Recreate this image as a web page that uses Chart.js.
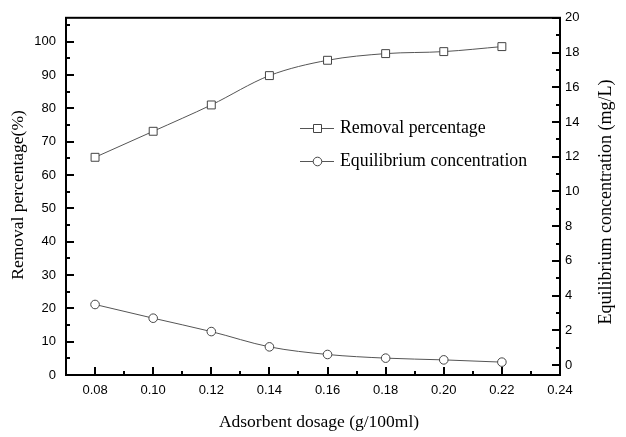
<!DOCTYPE html>
<html>
<head>
<meta charset="utf-8">
<script src="https://cdn.jsdelivr.net/npm/chart.js@4.4.0/dist/chart.umd.min.js"></script>
<style>
  html, body { margin: 0; padding: 0; background: #fff; }
  #wrap { width: 626px; height: 437px; }
</style>
</head>
<body>
<div id="wrap"><canvas id="dosageChart"></canvas></div>
<script>
// adsorbent dosage (g/100ml) and the two measured series
const dosage = [0.08, 0.10, 0.12, 0.14, 0.16, 0.18, 0.20, 0.22];
const removalPct = [65.3, 73.1, 81.0, 89.8, 94.4, 96.4, 97.0, 98.5];
const equilConc = [3.49, 2.70, 1.93, 1.05, 0.61, 0.40, 0.30, 0.17];

// axis ticks
const xTicks = [0.08, 0.10, 0.12, 0.14, 0.16, 0.18, 0.20, 0.22, 0.24];
const xMinorTicks = [0.09, 0.11, 0.13, 0.15, 0.17, 0.19, 0.21, 0.23];
const leftTicks = [0, 10, 20, 30, 40, 50, 60, 70, 80, 90, 100];
const leftMinorTicks = [5, 15, 25, 35, 45, 55, 65, 75, 85, 95, 105];
const rightTicks = [0, 2, 4, 6, 8, 10, 12, 14, 16, 18, 20];
const rightMinorTicks = [1, 3, 5, 7, 9, 11, 13, 15, 17, 19];

const serif = "'Liberation Serif', 'Times New Roman', serif";
const sans = "'Liberation Sans', Arial, sans-serif";
const lineColor = '#555';

// box around the plot, inward major/minor tick marks, axis titles
const frameTicks = {
  id: 'frameTicks',
  afterDraw(chart) {
    const { ctx, chartArea: a, scales } = chart;
    ctx.save();
    ctx.strokeStyle = '#000';
    ctx.lineWidth = 2;
    ctx.strokeRect(a.left, a.top, a.right - a.left, a.bottom - a.top);
    ctx.beginPath();
    const xMark = (vals, len) => vals.forEach(v => {
      const px = Math.round(scales.x.getPixelForValue(v));
      ctx.moveTo(px, a.bottom); ctx.lineTo(px, a.bottom - len);
    });
    const leftMark = (vals, len) => vals.forEach(v => {
      const py = Math.round(scales.y.getPixelForValue(v));
      ctx.moveTo(a.left, py); ctx.lineTo(a.left + len, py);
    });
    const rightMark = (vals, len) => vals.forEach(v => {
      const py = Math.round(scales.y1.getPixelForValue(v));
      ctx.moveTo(a.right, py); ctx.lineTo(a.right - len, py);
    });
    xMark(xTicks, 8); xMark(xMinorTicks, 4);
    leftMark(leftTicks, 8); leftMark(leftMinorTicks, 4);
    rightMark(rightTicks, 8); rightMark(rightMinorTicks, 4);
    ctx.stroke();

    ctx.fillStyle = '#000';
    ctx.textAlign = 'center';
    ctx.textBaseline = 'middle';

    ctx.font = '17.5px ' + serif;
    ctx.fillText('Adsorbent dosage (g/100ml)', 319, 422);

    ctx.save();
    ctx.translate(18, 195);
    ctx.rotate(-Math.PI / 2);
    ctx.fillText('Removal percentage(%)', 0, 0);
    ctx.restore();

    ctx.font = '18px ' + serif;
    ctx.translate(606, 202);
    ctx.rotate(-Math.PI / 2);
    ctx.fillText('Equilibrium concentration (mg/L)', 0, 0);
    ctx.restore();
  }
};

// legend inside the plot
const innerLegend = {
  id: 'innerLegend',
  afterDraw(chart) {
    const { ctx } = chart;
    const rows = [
      { text: 'Removal percentage', y: 128, shape: 'rect' },
      { text: 'Equilibrium concentration', y: 161, shape: 'circle' }
    ];
    ctx.save();
    rows.forEach(r => {
      ctx.strokeStyle = lineColor;
      ctx.lineWidth = 1;
      ctx.beginPath();
      ctx.moveTo(300, r.y + 0.5); ctx.lineTo(334, r.y + 0.5);
      ctx.stroke();
      ctx.fillStyle = '#fff';
      ctx.strokeStyle = '#444';
      ctx.beginPath();
      if (r.shape === 'rect') ctx.rect(313.5, r.y - 3.5, 8, 8);
      else ctx.arc(317.5, r.y + 0.5, 4.3, 0, Math.PI * 2);
      ctx.fill(); ctx.stroke();
      ctx.fillStyle = '#000';
      ctx.font = '17.8px ' + serif;
      ctx.textAlign = 'left';
      ctx.textBaseline = 'middle';
      ctx.fillText(r.text, 340, r.y);
    });
    ctx.restore();
  }
};

const tickFont = { family: sans, size: 13 };

new Chart(document.getElementById('dosageChart'), {
  type: 'line',
  data: {
    datasets: [
      {
        label: 'Removal percentage',
        data: dosage.map((x, i) => ({ x, y: removalPct[i] })),
        yAxisID: 'y',
        borderColor: lineColor,
        borderWidth: 1,
        cubicInterpolationMode: 'monotone',
        pointStyle: 'rect',
        pointRadius: 5.6,
        pointBackgroundColor: '#fff',
        pointBorderColor: '#444',
        pointBorderWidth: 1
      },
      {
        label: 'Equilibrium concentration',
        data: dosage.map((x, i) => ({ x, y: equilConc[i] })),
        yAxisID: 'y1',
        borderColor: lineColor,
        borderWidth: 1,
        cubicInterpolationMode: 'monotone',
        pointStyle: 'circle',
        pointRadius: 4.3,
        pointBackgroundColor: '#fff',
        pointBorderColor: '#444',
        pointBorderWidth: 1
      }
    ]
  },
  options: {
    responsive: true,
    maintainAspectRatio: false,
    animation: false,
    layout: { padding: { top: 15, left: 0, right: 0, bottom: 0 } },
    plugins: { legend: { display: false }, tooltip: { enabled: false } },
    scales: {
      x: {
        type: 'linear',
        min: 0.07,
        max: 0.24,
        grid: { display: false, drawTicks: false },
        border: { display: false },
        afterBuildTicks: s => { s.ticks = xTicks.map(v => ({ value: v })); },
        afterFit: s => { s.height = 62; },
        ticks: {
          font: tickFont, color: '#000', padding: 8,
          maxRotation: 0, autoSkip: false,
          callback: v => v.toFixed(2)
        }
      },
      y: {
        position: 'left',
        min: 0,
        max: 107.14,
        grid: { display: false, drawTicks: false },
        border: { display: false },
        afterBuildTicks: s => { s.ticks = leftTicks.map(v => ({ value: v })); },
        afterFit: s => { s.width = 66; },
        ticks: { font: tickFont, color: '#000', padding: 10 }
      },
      y1: {
        position: 'right',
        min: -0.571,
        max: 20,
        grid: { display: false, drawTicks: false },
        border: { display: false },
        afterBuildTicks: s => { s.ticks = rightTicks.map(v => ({ value: v })); },
        afterFit: s => { s.width = 66; },
        ticks: { font: tickFont, color: '#000', padding: 5 }
      }
    }
  },
  plugins: [frameTicks, innerLegend]
});
</script>
</body>
</html>
